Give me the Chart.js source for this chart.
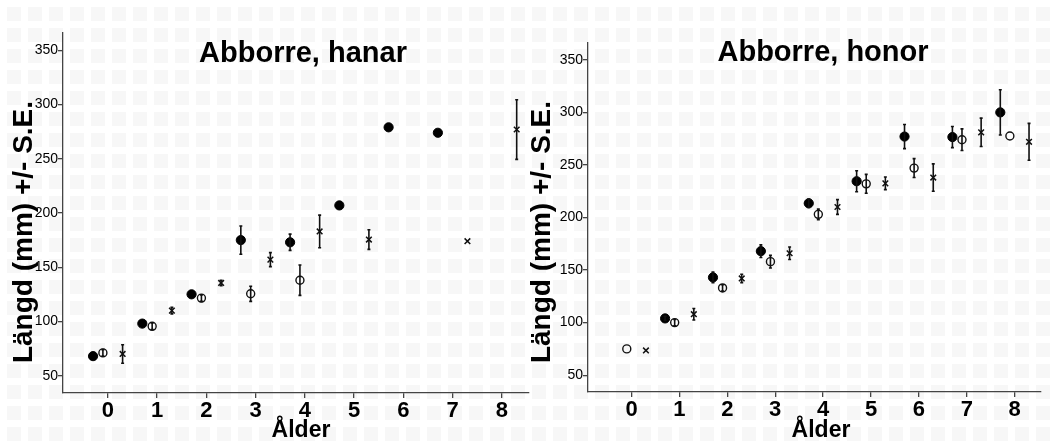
<!DOCTYPE html>
<html>
<head>
<meta charset="utf-8">
<script src="https://cdn.jsdelivr.net/npm/chart.js@4.4.1/dist/chart.umd.min.js"></script>
<style>
  html, body { margin: 0; padding: 0; }
  body {
    width: 1053px; height: 441px; position: relative; overflow: hidden;
    background-color: #fff;
    background-image: linear-gradient(90deg, #fff 7px, transparent 7px),
                      linear-gradient(#fff 7px, #f7f7f7 7px);
    background-size: 21px 21px;
  }
  .panel { position: absolute; top: 0; height: 441px; }
  #leftBox { left: 0; width: 535px; }
  #rightBox { left: 527px; width: 526px; }
</style>
</head>
<body>
<div class="panel" id="leftBox"><canvas id="hanarChart"></canvas></div>
<div class="panel" id="rightBox"><canvas id="honorChart"></canvas></div>
<script>
/* ---------- DATA ---------- */
const ages = [0, 1, 2, 3, 4, 5, 6, 7, 8];
const xTicks = [0, 1, 2, 3, 4, 5, 6, 7, 8];
const yTicks = [50, 100, 150, 200, 250, 300, 350];

// Abborre, hanar
const hanarFilled    = [68, 98, 125, 175, 173, 207, 279, 274, null];
const hanarFilledErr = [0, 0, 0, 13, 7.5, 0, 0, 0, null];
const hanarOpen      = [71, 95.5, 121.5, 125.5, 138, null, null, null, null];
const hanarOpenErr   = [3, 3, 3, 7, 14, null, null, null, null];
const hanarCross     = [70, 110, 135.5, 157, 183, 175.5, null, 174, 277];
const hanarCrossErr  = [8.5, 3, 2.5, 6.5, 15, 9, null, 0, 27.5];

// Abborre, honor
const honorFilled    = [null, 104, 143, 168, 213.5, 234.5, 277, 276.5, 300];
const honorFilledErr = [null, 2, 5, 6, 4, 10, 11.5, 10, 21.5];
const honorOpen      = [75, 100, 133, 158, 203, 232, 247, 274, 277.5];
const honorOpenErr   = [0, 3, 3, 6, 5, 9, 9, 10.3, 0];
const honorCross     = [73.5, 108, 142, 166, 210, 232.5, 238, 281, 272];
const honorCrossErr  = [0, 5.5, 4, 6, 7, 6, 13, 13.5, 17.5];

/* ---------- HELPERS ---------- */
const FONT = '"Liberation Sans", Arial, Helvetica, sans-serif';
const offsets = { filled: -0.3, open: -0.1, cross: 0.3 };

function points(vals, errs, off) {
  return ages
    .map((a, i) => vals[i] == null ? null : { x: a + off, y: vals[i], err: errs[i] || 0 })
    .filter(Boolean);
}

function datasets(filled, filledErr, open, openErr, cross, crossErr) {
  return [
    {
      label: "filled",
      data: points(filled, filledErr, offsets.filled),
      pointStyle: "circle",
      pointRadius: 4.6,
      backgroundColor: "#000",
      borderColor: "#000",
      borderWidth: 1
    },
    {
      label: "open",
      data: points(open, openErr, offsets.open),
      pointStyle: "circle",
      pointRadius: 4,
      backgroundColor: "rgba(0,0,0,0)",
      borderColor: "#111",
      borderWidth: 1.4
    },
    {
      label: "cross",
      data: points(cross, crossErr, offsets.cross),
      pointStyle: "crossRot",
      pointRadius: 4,
      borderColor: "#111",
      borderWidth: 1.5
    }
  ];
}

/* ---------- PLUGINS ---------- */
const errorBars = {
  id: "errorBars",
  afterDatasetsDraw(chart) {
    const { ctx } = chart;
    const x = chart.scales.x, y = chart.scales.y;
    ctx.save();
    ctx.strokeStyle = "#111";
    ctx.lineWidth = 1.6;
    chart.data.datasets.forEach(ds => {
      ds.data.forEach(p => {
        if (!p.err) return;
        const px = x.getPixelForValue(p.x);
        const top = y.getPixelForValue(p.y + p.err);
        const bot = y.getPixelForValue(p.y - p.err);
        ctx.beginPath();
        ctx.moveTo(px, top); ctx.lineTo(px, bot);
        ctx.moveTo(px - 1.5, top); ctx.lineTo(px + 1.5, top);
        ctx.moveTo(px - 1.5, bot); ctx.lineTo(px + 1.5, bot);
        ctx.stroke();
      });
    });
    ctx.restore();
  }
};

const panelText = {
  id: "panelText",
  afterDraw(chart, args, o) {
    const { ctx } = chart;
    ctx.save();
    ctx.fillStyle = "#000";
    ctx.textAlign = "center";
    ctx.textBaseline = "alphabetic";
    ctx.font = "bold 29px " + FONT;
    ctx.fillText(o.title, o.titleX, o.titleY);
    ctx.font = "bold 23px " + FONT;
    ctx.fillText(o.xTitle, o.xTitleX, o.xTitleY);
    ctx.translate(o.yTitleX, o.yTitleY);
    ctx.rotate(-Math.PI / 2);
    ctx.font = "bold 28px " + FONT;
    ctx.fillText(o.yTitle, 0, 0);
    ctx.restore();
  }
};

/* ---------- CHARTS ---------- */
function makeChart(id, ds, layout, text) {
  return new Chart(document.getElementById(id), {
    type: "scatter",
    data: { datasets: ds },
    plugins: [errorBars, panelText],
    options: {
      responsive: true,
      maintainAspectRatio: false,
      animation: false,
      layout: { padding: { left: 0, right: layout.padRight, top: layout.top, bottom: 0 } },
      plugins: {
        legend: { display: false },
        tooltip: { enabled: false },
        panelText: text
      },
      scales: {
        x: {
          type: "linear",
          min: -0.91,
          max: 8.55,
          afterBuildTicks: s => { s.ticks = xTicks.map(v => ({ value: v })); },
          afterFit: s => { s.height = layout.xHeight; },
          border: { display: true, color: "#444", width: 1.3 },
          grid: { drawOnChartArea: false, drawTicks: true, tickLength: 5, color: "#444", lineWidth: 1.3 },
          ticks: { color: "#000", padding: 0, font: { family: FONT, size: 22, weight: "bold" } }
        },
        y: {
          type: "linear",
          min: 34,
          max: 366,
          afterBuildTicks: s => { s.ticks = yTicks.map(v => ({ value: v })); },
          afterFit: s => { s.width = layout.yWidth; },
          border: { display: true, color: "#444", width: 1.3 },
          grid: { drawOnChartArea: false, drawTicks: true, tickLength: 5, color: "#444", lineWidth: 1.3 },
          ticks: { color: "#000", padding: 0, font: { family: FONT, size: 14 } }
        }
      }
    }
  });
}

makeChart(
  "hanarChart",
  datasets(hanarFilled, hanarFilledErr, hanarOpen, hanarOpenErr, hanarCross, hanarCrossErr),
  { top: 33, padRight: 6, xHeight: 48, yWidth: 63 },
  {
    title: "Abborre, hanar", titleX: 303, titleY: 62,
    xTitle: "Ålder", xTitleX: 301, xTitleY: 437,
    yTitle: "Längd (mm) +/- S.E.", yTitleX: 32, yTitleY: 232
  }
);

makeChart(
  "honorChart",
  datasets(honorFilled, honorFilledErr, honorOpen, honorOpenErr, honorCross, honorCrossErr),
  { top: 43, padRight: 12, xHeight: 49, yWidth: 61 },
  {
    title: "Abborre, honor", titleX: 296, titleY: 61,
    xTitle: "Ålder", xTitleX: 294, xTitleY: 437,
    yTitle: "Längd (mm) +/- S.E.", yTitleX: 23, yTitleY: 232
  }
);
</script>
</body>
</html>
